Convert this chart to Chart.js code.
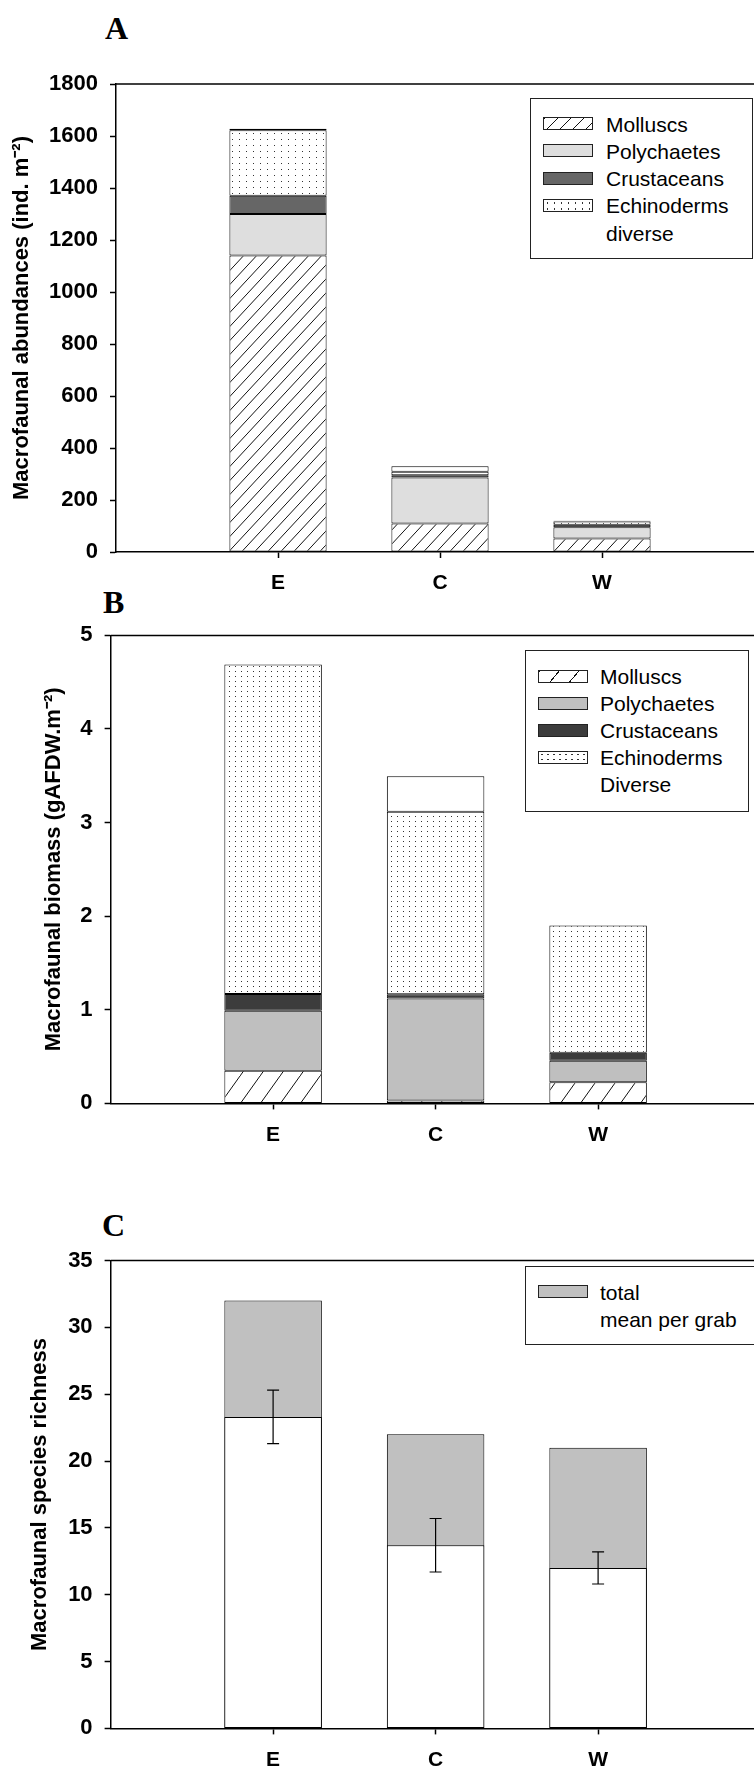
<!DOCTYPE html>
<html>
<head>
<meta charset="utf-8">
<script src="https://cdn.jsdelivr.net/npm/chart.js@4/dist/chart.umd.min.js"></script>
<style>
html,body{margin:0;padding:0;overflow:hidden;background:#fff;width:754px;height:1769px;}
body{position:relative;}
canvas{position:absolute;left:0;}
.letter{position:absolute;font-family:'Liberation Serif','Times New Roman',serif;font-weight:bold;font-size:32px;line-height:32px;color:#000;}
.legend{position:absolute;border:1.5px solid #222;background:#fff;box-sizing:border-box;font-family:'Liberation Sans',Arial,sans-serif;font-size:21px;color:#000;}
.item{position:absolute;height:24px;line-height:24px;white-space:nowrap;}
.sw{position:absolute;width:50px;height:13px;border:1.2px solid #222;box-sizing:border-box;background:#fff;}
</style>
</head>
<body>
<div class="letter" style="left:105px;top:12px;">A</div>
<div class="letter" style="left:103px;top:586px;">B</div>
<div class="letter" style="left:102px;top:1209px;">C</div>

<canvas id="chartA" width="780" height="600" style="top:0px"></canvas>
<canvas id="chartB" width="780" height="560" style="top:600px"></canvas>
<canvas id="chartC" width="780" height="609" style="top:1160px"></canvas>

<div class="legend" id="legA" style="left:530px;top:98px;width:223px;height:161px;"></div>
<div class="legend" id="legB" style="left:525px;top:650px;width:224px;height:162px;"></div>
<div class="legend" id="legC" style="left:525px;top:1266px;width:260px;height:79px;"></div>

<script>
// ---------- data ----------
const categories = ['E', 'C', 'W'];

// Panel A: macrofaunal abundances (ind. m-2)
const abMolluscs    = [1140, 110, 52];
const abPolychaetes = [160, 177, 43];
const abCrustaceans = [70, 8, 10];
const abEchinoderms = [252, 14, 12];
const abDiverse     = [6, 21, 3];
const abTicks = [0, 200, 400, 600, 800, 1000, 1200, 1400, 1600, 1800];

// Panel B: macrofaunal biomass (gAFDW m-2)
const bmMolluscs    = [0.35, 0.03, 0.225];
const bmPolychaetes = [0.64, 1.09, 0.23];
const bmCrustaceans = [0.18, 0.045, 0.085];
const bmEchinoderms = [3.52, 1.95, 1.36];
const bmDiverse     = [0, 0.38, 0];
const bmTicks = [0, 1, 2, 3, 4, 5];

// Panel C: species richness
const srTotal = [32, 22, 21];
const srMean  = [23.3, 13.7, 12.0];
const srError = [2.0, 2.0, 1.2];
const srTicks = [0, 5, 10, 15, 20, 25, 30, 35];

// ---------- helpers ----------
Chart.defaults.font.family = "'Liberation Sans', Arial, sans-serif";
Chart.defaults.color = '#000';

const labels = ['', ...categories, ''];
const pad = arr => [null, ...arr, null];

function hatch(w, h) {
  const c = document.createElement('canvas');
  c.width = w; c.height = h;
  const x = c.getContext('2d');
  x.fillStyle = '#fff'; x.fillRect(0, 0, w, h);
  x.strokeStyle = '#111'; x.lineWidth = 1;
  x.beginPath();
  x.moveTo(0, h); x.lineTo(w, 0);
  x.moveTo(-w, h); x.lineTo(0, 0);
  x.moveTo(w, 2 * h); x.lineTo(2 * w, h);
  x.stroke();
  return x.createPattern(c, 'repeat');
}
function dots(w, h, col) {
  const c = document.createElement('canvas');
  c.width = w; c.height = h;
  const x = c.getContext('2d');
  x.fillStyle = '#fff'; x.fillRect(0, 0, w, h);
  x.fillStyle = col; x.fillRect(1, 1, 1, 1);
  return x.createPattern(c, 'repeat');
}

const framePlugin = {
  id: 'frameTop',
  afterDraw(chart) {
    const {ctx, chartArea} = chart;
    ctx.save();
    ctx.strokeStyle = '#000'; ctx.lineWidth = 1.5;
    ctx.beginPath();
    ctx.moveTo(chartArea.left, chartArea.top);
    ctx.lineTo(chartArea.right, chartArea.top);
    ctx.stroke();
    ctx.restore();
  }
};

function makeOptions(cfg) {
  return {
    responsive: false,
    devicePixelRatio: 1,
    animation: false,
    events: [],
    layout: { padding: { top: cfg.padTop, right: cfg.padRight, left: 0, bottom: 0 } },
    plugins: { legend: { display: false }, tooltip: { enabled: false } },
    datasets: { bar: { categoryPercentage: 1, barPercentage: 0.6, borderColor: '#000', borderWidth: 1, borderSkipped: false } },
    scales: {
      x: {
        type: 'category',
        stacked: cfg.stacked,
        offset: false,
        grid: {
          offset: false, drawOnChartArea: false, tickLength: 6, tickWidth: 1.5,
          tickColor: ctx => (ctx.index === 0 || ctx.index === labels.length - 1) ? 'rgba(0,0,0,0)' : '#000'
        },
        border: { color: '#000', width: 1.5 },
        ticks: { font: { size: 21, weight: 'bold' }, padding: 13, maxRotation: 0, autoSkip: false },
        afterFit: s => { s.height = cfg.xHeight; }
      },
      y: {
        stacked: cfg.stacked,
        min: cfg.ticks[0], max: cfg.ticks[cfg.ticks.length - 1],
        afterBuildTicks: s => { s.ticks = cfg.ticks.map(v => ({ value: v })); },
        grid: { drawOnChartArea: false, tickLength: 6, tickWidth: 1.5, tickColor: '#000' },
        border: { color: '#000', width: 1.5 },
        ticks: { font: { size: 22, weight: 'bold' }, padding: 12, autoSkip: false, callback: v => String(v) },
        title: { display: true, text: cfg.title, font: { size: 22, weight: 'bold' }, padding: { top: cfg.titlePad, bottom: 0 } },
        afterFit: s => { s.width = cfg.yWidth; }
      }
    }
  };
}

// ---------- Panel A ----------
const ctxA = document.getElementById('chartA').getContext('2d');
const hatchA = hatch(13, 14), dotsA = dots(7, 6, '#333');
new Chart(ctxA, {
  type: 'bar',
  data: {
    labels,
    datasets: [
      { label: 'Molluscs', data: pad(abMolluscs), backgroundColor: hatchA },
      { label: 'Polychaetes', data: pad(abPolychaetes), backgroundColor: '#dedede' },
      { label: 'Crustaceans', data: pad(abCrustaceans), backgroundColor: '#666666' },
      { label: 'Echinoderms', data: pad(abEchinoderms), backgroundColor: dotsA },
      { label: 'diverse', data: pad(abDiverse), backgroundColor: '#ffffff' }
    ]
  },
  options: makeOptions({ padTop: 84, padRight: 16, xHeight: 48, yWidth: 116, stacked: true,
    ticks: abTicks, title: 'Macrofaunal abundances (ind. m\u207B\u00B2)', titlePad: 8.4 }),
  plugins: [framePlugin]
});

// ---------- Panel B ----------
const ctxB = document.getElementById('chartB').getContext('2d');
const hatchB = hatch(20, 28), dotsB = dots(6, 5, '#333');
new Chart(ctxB, {
  type: 'bar',
  data: {
    labels,
    datasets: [
      { label: 'Molluscs', data: pad(bmMolluscs), backgroundColor: hatchB },
      { label: 'Polychaetes', data: pad(bmPolychaetes), backgroundColor: '#bfbfbf' },
      { label: 'Crustaceans', data: pad(bmCrustaceans), backgroundColor: '#3c3c3c' },
      { label: 'Echinoderms', data: pad(bmEchinoderms), backgroundColor: dotsB },
      { label: 'Diverse', data: pad(bmDiverse), backgroundColor: '#ffffff' }
    ]
  },
  options: makeOptions({ padTop: 35.4, padRight: 19.4, xHeight: 56.6, yWidth: 110.6, stacked: true,
    ticks: bmTicks, title: 'Macrofaunal biomass (gAFDW.m\u207B\u00B2)', titlePad: 40.3 }),
  plugins: [framePlugin]
});

// ---------- Panel C ----------
const errorBarPlugin = {
  id: 'errorBars',
  afterDatasetsDraw(chart) {
    const {ctx} = chart;
    const xs = chart.scales.x, ys = chart.scales.y;
    ctx.save();
    ctx.strokeStyle = '#000'; ctx.lineWidth = 1.2;
    categories.forEach((c, i) => {
      const x = xs.getPixelForValue(i + 1);
      const yHi = ys.getPixelForValue(srMean[i] + srError[i]);
      const yLo = ys.getPixelForValue(srMean[i] - srError[i]);
      ctx.beginPath();
      ctx.moveTo(x, yHi); ctx.lineTo(x, yLo);
      ctx.moveTo(x - 6, yHi); ctx.lineTo(x + 6, yHi);
      ctx.moveTo(x - 6, yLo); ctx.lineTo(x + 6, yLo);
      ctx.stroke();
    });
    ctx.restore();
  }
};
const ctxC = document.getElementById('chartC').getContext('2d');
new Chart(ctxC, {
  type: 'bar',
  data: {
    labels,
    datasets: [
      { label: 'mean per grab', data: pad(srMean), backgroundColor: '#ffffff', grouped: false, order: 0 },
      { label: 'total', data: pad(srTotal), backgroundColor: '#c0c0c0', grouped: false, order: 1 }
    ]
  },
  options: makeOptions({ padTop: 100.5, padRight: 19.4, xHeight: 40.6, yWidth: 110.6, stacked: false,
    ticks: srTicks, title: 'Macrofaunal species richness', titlePad: 26.8 }),
  plugins: [framePlugin, errorBarPlugin]
});

// ---------- Legends (HTML) ----------
function swatchCss(kind) {
  switch (kind) {
    case 'hatchA': return 'background:#fff repeating-linear-gradient(135deg,#111 0 1px,#fff 1px 9.2px);';
    case 'hatchB': return 'background:#fff repeating-linear-gradient(130deg,#111 0 1px,#fff 1px 15px);';
    case 'dotsA': return 'background:#fff radial-gradient(circle,#333 0.7px,transparent 1.1px) 0 0/7px 6px;';
    case 'dotsB': return 'background:#fff radial-gradient(circle,#333 0.7px,transparent 1.1px) 0 0/6px 5px;';
    default: return 'background:' + kind + ';';
  }
}
function buildLegend(id, items, swLeft, textLeft, firstCenter, step) {
  const box = document.getElementById(id);
  items.forEach((it, k) => {
    const cy = firstCenter + k * step;
    if (it.sw) {
      const s = document.createElement('div');
      s.className = 'sw';
      s.style.cssText = 'left:' + swLeft + 'px;top:' + (cy - 7.5) + 'px;' + swatchCss(it.sw);
      box.appendChild(s);
    }
    const t = document.createElement('div');
    t.className = 'item';
    t.style.left = textLeft + 'px';
    t.style.top = (cy - 12) + 'px';
    t.textContent = it.label;
    box.appendChild(t);
  });
}
buildLegend('legA', [
  { label: 'Molluscs', sw: 'hatchA' },
  { label: 'Polychaetes', sw: '#dedede' },
  { label: 'Crustaceans', sw: '#666666' },
  { label: 'Echinoderms', sw: 'dotsA' },
  { label: 'diverse', sw: null }
], 11.5, 75, 25.5, 27.3);
buildLegend('legB', [
  { label: 'Molluscs', sw: 'hatchB' },
  { label: 'Polychaetes', sw: '#bfbfbf' },
  { label: 'Crustaceans', sw: '#3c3c3c' },
  { label: 'Echinoderms', sw: 'dotsB' },
  { label: 'Diverse', sw: null }
], 11.5, 74, 26, 27.1);
buildLegend('legC', [
  { label: 'total', sw: '#c0c0c0' },
  { label: 'mean per grab', sw: null }
], 11.5, 74, 25.5, 27.8);
</script>
</body>
</html>
